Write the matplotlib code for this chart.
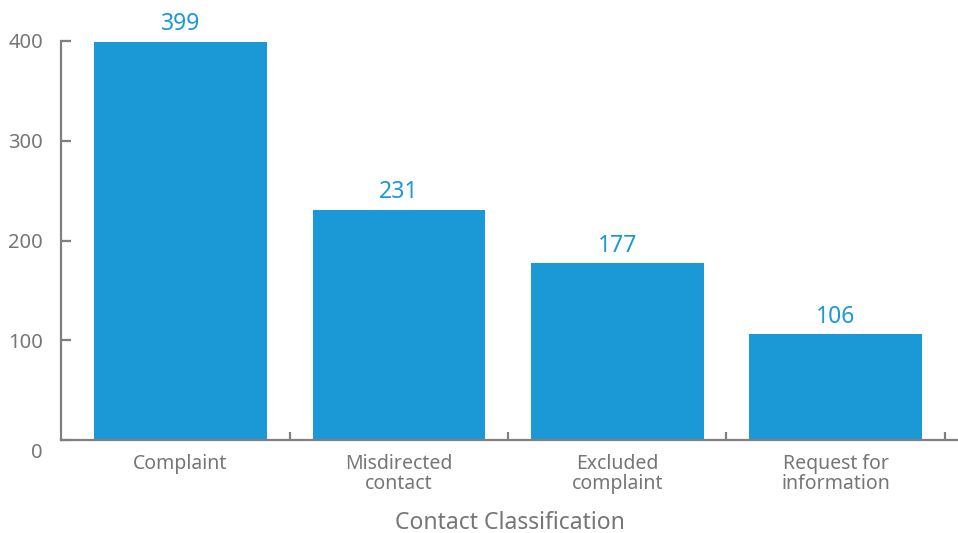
import matplotlib
matplotlib.use('Agg')
import matplotlib.pyplot as plt
import matplotlib.transforms as mtransforms

categories = ['Complaint', 'Misdirected\ncontact', 'Excluded\ncomplaint',
              'Request for\ninformation']
counts = [399, 231, 177, 106]
yticks = [0, 100, 200, 300, 400]

BLUE = '#1b98d6'
GREY = '#767676'
AXIS = '#7f7f7f'

plt.rcParams['font.family'] = ['Noto Sans', 'DejaVu Sans']

W, H = 958, 533
fig = plt.figure(figsize=(W / 100, H / 100), dpi=100)
ax = fig.add_axes([61 / W, (H - 440) / H, (W - 61) / W, (440 - 41) / H])

xs = list(range(len(categories)))
bars = ax.bar(xs, counts, width=0.79, color=BLUE, zorder=1)
for x, v in zip(xs, counts):
    ax.annotate(str(v), (x, v), xytext=(0, 4), textcoords='offset points',
                ha='center', va='bottom', color=BLUE, fontsize=16.5,
                annotation_clip=False)

ax.set_xlim(-0.547, 3.56)
ax.set_ylim(0, 400)

for side in ('top', 'right'):
    ax.spines[side].set_visible(False)
for side in ('left', 'bottom'):
    ax.spines[side].set_color(AXIS)
    ax.spines[side].set_linewidth(1.6)
    ax.spines[side].set_zorder(3)

ax.set_yticks(yticks)
ax.yaxis.set_tick_params(which='major', direction='in', length=7, width=1.6,
                         color=AXIS, labelcolor=GREY, labelsize=14.5, pad=13)
# the zero label sits a bit lower in the original
lbl0 = ax.get_yticklabels()[0]
lbl0.set_transform(lbl0.get_transform() +
                   mtransforms.ScaledTranslation(0, -0.1, fig.dpi_scale_trans))

ax.set_xticks([i + 0.5 for i in xs])
ax.set_xticklabels([])
ax.set_xticks(xs, minor=True)
ax.set_xticklabels(categories, minor=True, linespacing=1.0)
ax.tick_params(axis='x', which='major', direction='in', length=6, width=1.6,
               color=AXIS)
ax.tick_params(axis='x', which='minor', length=0, labelcolor=GREY,
               labelsize=14, pad=10)

ax.set_xlabel('Contact Classification', color=GREY, fontsize=16.5,
              labelpad=12)

fig.savefig('out.png', dpi=100)
